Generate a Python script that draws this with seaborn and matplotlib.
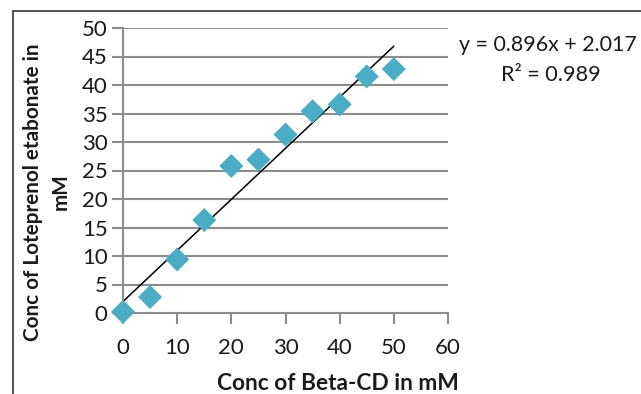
import numpy as np
import pandas as pd
import matplotlib
matplotlib.use("Agg")
import matplotlib.pyplot as plt
import seaborn as sns
from matplotlib.patches import Rectangle

# Datos
beta_cd = [0, 5, 10, 15, 20, 25, 30, 35, 40, 45, 50]
loteprenol = [0.2, 2.8, 9.4, 16.3, 25.8, 26.9, 31.3, 35.4, 36.6, 41.5, 42.8]
slope = 0.896
intercept = 2.017
r2 = 0.989

df = pd.DataFrame({"beta_cd": beta_cd, "loteprenol": loteprenol})
df["trend"] = slope * df["beta_cd"] + intercept

sns.set_theme(style="white")
plt.rcParams["font.family"] = ["Lato", "DejaVu Sans"]

W, H = 641, 394
fig = plt.figure(figsize=(W / 100, H / 100), dpi=100)
ax = fig.add_axes([123 / W, 1 - 313 / H, (448 - 123) / W, (313 - 28) / H])

grid_col = "#8c8c8c"
for yv in range(5, 55, 5):
    ax.axhline(yv, color=grid_col, lw=1.5, zorder=0)

sns.lineplot(data=df, x="beta_cd", y="trend", ax=ax, color="black", lw=1.1, zorder=2)
sns.scatterplot(data=df, x="beta_cd", y="loteprenol", ax=ax, marker="D", s=150,
                color="#4bacc6", edgecolor="none", zorder=3, clip_on=False)

ax.set_xlim(0, 60)
ax.set_ylim(0, 50)
ax.set_xticks(range(0, 70, 10))
ax.set_yticks(range(0, 55, 5))
ax.tick_params(axis="both", labelsize=16, color=grid_col, width=1.5, length=8,
               direction="out", labelcolor="#1a1a1a")
ax.tick_params(axis="x", bottom=True, pad=10)
ax.tick_params(axis="y", left=True, pad=3)
for s in ["top", "right"]:
    ax.spines[s].set_visible(False)
for s in ["left", "bottom"]:
    ax.spines[s].set_color(grid_col)
    ax.spines[s].set_linewidth(1.5)
ax.set_xlabel("")
ax.set_ylabel("")

fig.text(338 / W, 1 - 384 / H, "Conc of Beta-CD in mM", ha="center", va="center",
         fontsize=16.4, fontweight="bold", color="#1a1a1a")
fig.text(47 / W, 1 - 192 / H, "Conc of Loteprenol etabonate in\nmM", ha="center",
         va="center", rotation=90, fontsize=14.9, fontweight="bold", color="#1a1a1a",
         multialignment="center", linespacing=1.45)

fig.text(459 / W, 1 - 45 / H, f"y = {slope}x + {intercept}", ha="left", va="center",
         fontsize=15.4, color="#1a1a1a")
fig.text(551 / W, 1 - 75 / H, f"R² = {r2}", ha="center", va="center",
         fontsize=15.6, color="#1a1a1a")

# marco exterior
fig.patches.append(Rectangle((13 / W, -0.1), 1.2, 1 - 11 / H + 0.1, transform=fig.transFigure,
                             fill=False, edgecolor="#333333", lw=1.2))

fig.savefig("out.png", dpi=100)
